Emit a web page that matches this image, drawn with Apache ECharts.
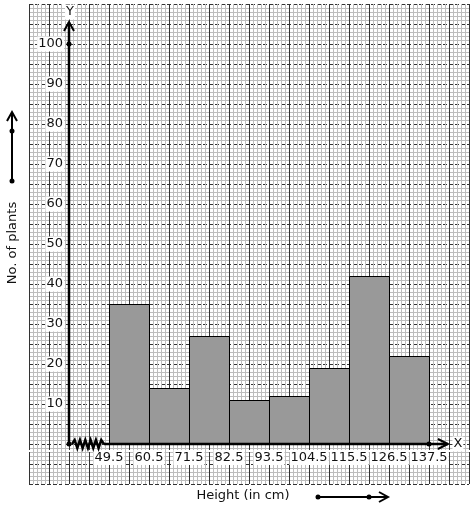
<!DOCTYPE html>
<html><head><meta charset="utf-8">
<script src="https://cdn.jsdelivr.net/npm/echarts@6/dist/echarts.min.js"></script>
<style>html,body{margin:0;padding:0;background:#fff}#c{width:474px;height:510px}</style>
</head><body><div id="c"></div>
<script>
var classBounds = [49.5, 60.5, 71.5, 82.5, 93.5, 104.5, 115.5, 126.5, 137.5];
var plantCounts = [35, 14, 27, 11, 12, 19, 42, 22];
var yTickLabels = [10, 20, 30, 40, 50, 60, 70, 80, 90, 100];
var xTitle = 'Height (in cm)';
var yTitle = 'No. of plants';
var originX = 38.5;

var bars = plantCounts.map(function (v, i) { return [classBounds[i], classBounds[i + 1], v]; });
var FONT = 'DejaVu Sans';
var TXT = '#111';
var chart = echarts.init(document.getElementById('c'));
function near(v, arr) { for (var i = 0; i < arr.length; i++) if (Math.abs(v - arr[i]) < 1e-6) return true; return false; }

chart.setOption({
  animation: false,
  grid: { left: 29, top: 4, width: 440, height: 480, containLabel: false },
  xAxis: {
    type: 'value', min: 27.5, max: 148.5, interval: 5.5, offset: -40,
    axisLine: { show: false }, axisTick: { show: false },
    axisLabel: {
      margin: 6, fontFamily: FONT, fontSize: 13, color: TXT, backgroundColor: '#fff', padding: [1, 1],
      formatter: function (v) { return near(v, classBounds) ? String(Math.round(v * 10) / 10) : ''; }
    },
    splitLine: { show: true, lineStyle: { color: '#333', width: 1, type: 'solid' } },
    minorTick: { show: false, splitNumber: 5 },
    minorSplitLine: { show: true, lineStyle: { color: '#bdbdbd', width: 1 } }
  },
  yAxis: {
    type: 'value', min: -10, max: 110, interval: 5, offset: -40,
    axisLine: { show: false }, axisTick: { show: false },
    axisLabel: {
      margin: 5, fontFamily: FONT, fontSize: 13, color: TXT, backgroundColor: '#fff', padding: [1, 1],
      formatter: function (v) { return near(v, yTickLabels) ? String(v) : ''; }
    },
    splitLine: { show: true, lineStyle: { color: '#333', width: 1, type: [4, 2] } },
    minorTick: { show: false, splitNumber: 5 },
    minorSplitLine: { show: true, lineStyle: { color: '#bdbdbd', width: 1 } }
  },
  series: [{
    type: 'custom', data: bars, z: 5,
    renderItem: function (params, api) {
      var p0 = api.coord([api.value(0), 0]);
      var p1 = api.coord([api.value(1), api.value(2)]);
      return { type: 'rect', shape: { x: Math.round(p0[0]) + 0.5, y: Math.round(p1[1]) + 0.5, width: Math.round(p1[0] - p0[0]), height: Math.round(p0[1] - p1[1]) },
        style: { fill: '#999999', stroke: '#000', lineWidth: 1 } };
    }
  }]
});

var c = function (x, y) { return chart.convertToPixel({ gridIndex: 0 }, [x, y]); };
var o = c(originX, 0);
var yTop = c(originX, 105.5);
var xEnd = c(142.7, 0);
var y100 = c(originX, 100);
var xLast = c(classBounds[classBounds.length - 1], 0);
var zig = [];
var zx0 = o[0] + 3, zx1 = c(classBounds[0] - 1.4, 0)[0];
var n = 12;
for (var i = 0; i <= n; i++) zig.push([zx0 + (zx1 - zx0) * i / n, o[1] + (i === 0 || i === n ? 0 : (i % 2 ? -4 : 4))]);
var g = [];
g.push({ type: 'line', z: 100, shape: { x1: o[0], y1: o[1], x2: o[0], y2: yTop[1] }, style: { stroke: '#000', lineWidth: 2.5 } });
g.push({ type: 'polyline', z: 100, shape: { points: [[o[0] - 5, yTop[1] + 9], [o[0], yTop[1]], [o[0] + 5, yTop[1] + 9]] }, style: { stroke: '#000', lineWidth: 2, fill: null } });
g.push({ type: 'line', z: 100, shape: { x1: c(classBounds[0] - 1.4, 0)[0], y1: o[1], x2: xEnd[0], y2: o[1] }, style: { stroke: '#000', lineWidth: 2.5 } });
g.push({ type: 'polyline', z: 100, shape: { points: [[xEnd[0] - 10, o[1] - 5], [xEnd[0], o[1]], [xEnd[0] - 10, o[1] + 5]] }, style: { stroke: '#000', lineWidth: 2, fill: null } });
g.push({ type: 'polyline', z: 100, shape: { points: zig }, style: { stroke: '#000', lineWidth: 2.5, fill: null } });
[[o[0], o[1]], [y100[0], y100[1]], [xLast[0], xLast[1]]].forEach(function (p) {
  g.push({ type: 'circle', z: 101, shape: { cx: p[0], cy: p[1], r: 2.5 }, style: { fill: '#000' } });
});
g.push({ type: 'text', z: 101, x: o[0] + 1, y: 12, style: { text: 'Y', font: '13px ' + FONT, fill: TXT, align: 'center', verticalAlign: 'middle', backgroundColor: '#fff', padding: [1, 1] } });
g.push({ type: 'text', z: 101, x: xEnd[0] + 10, y: o[1], style: { text: 'X', font: '13px ' + FONT, fill: TXT, align: 'center', verticalAlign: 'middle', backgroundColor: '#fff', padding: [1, 1] } });
g.push({ type: 'text', z: 101, x: 243, y: 496, style: { text: xTitle, font: '13px ' + FONT, fill: TXT, align: 'center', verticalAlign: 'middle' } });
g.push({ type: 'text', z: 101, x: 13, y: 243, rotation: Math.PI / 2, style: { text: yTitle, font: '13px ' + FONT, fill: TXT, align: 'center', verticalAlign: 'middle' } });
g.push({ type: 'line', shape: { x1: 318, y1: 497, x2: 388, y2: 497 }, style: { stroke: '#000', lineWidth: 2 } });
g.push({ type: 'polyline', shape: { points: [[379, 492], [388, 497], [379, 502]] }, style: { stroke: '#000', lineWidth: 2, fill: null } });
g.push({ type: 'circle', shape: { cx: 318, cy: 497, r: 2.5 }, style: { fill: '#000' } });
g.push({ type: 'circle', shape: { cx: 369, cy: 497, r: 2.5 }, style: { fill: '#000' } });
g.push({ type: 'line', shape: { x1: 12, y1: 181, x2: 12, y2: 112 }, style: { stroke: '#000', lineWidth: 2 } });
g.push({ type: 'polyline', shape: { points: [[7, 121], [12, 112], [17, 121]] }, style: { stroke: '#000', lineWidth: 2, fill: null } });
g.push({ type: 'circle', shape: { cx: 12, cy: 131, r: 2.5 }, style: { fill: '#000' } });
g.push({ type: 'circle', shape: { cx: 12, cy: 181, r: 2.5 }, style: { fill: '#000' } });
chart.setOption({ graphic: g });
</script></body></html>
